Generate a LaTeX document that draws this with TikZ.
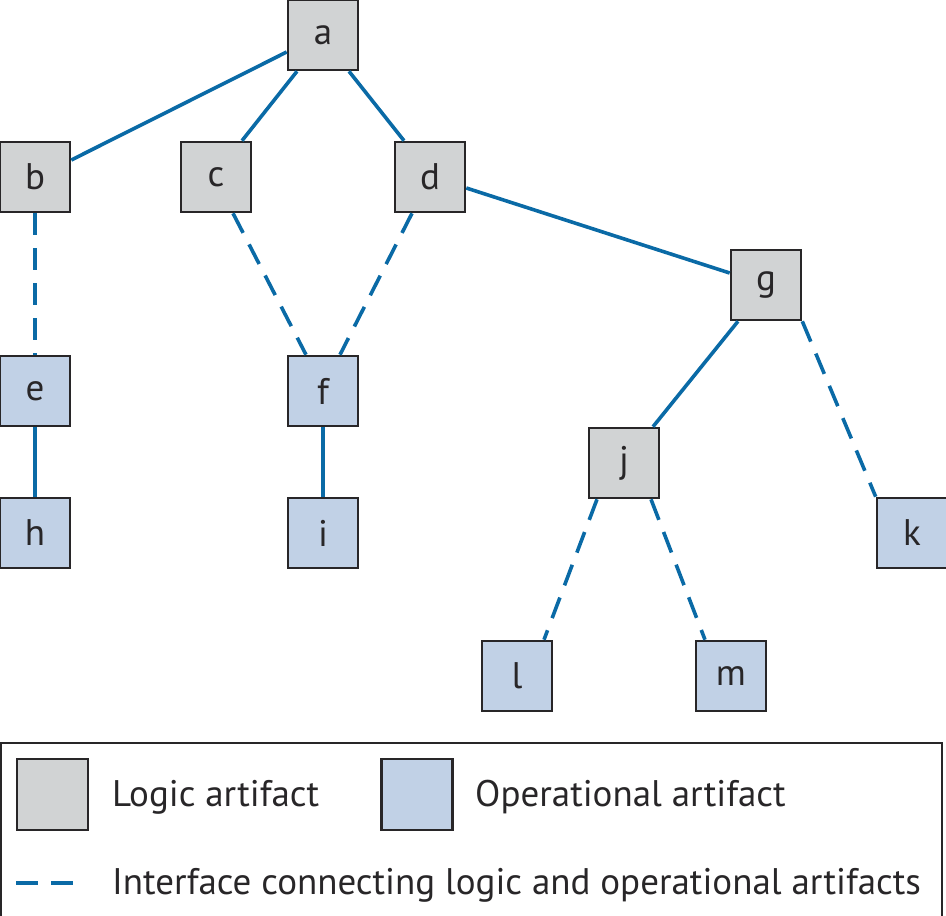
\documentclass[tikz,border=0pt]{standalone}
\usepackage{fontspec}
\setmainfont{PT Sans}
\definecolor{edgeblue}{RGB}{10,106,166}
\definecolor{logicfill}{RGB}{209,211,212}
\definecolor{opfill}{RGB}{193,209,230}
\definecolor{boxline}{RGB}{40,38,40}
\tikzset{
  artbox/.style={draw=boxline, line width=2.6pt, minimum size=70pt, inner sep=0pt, font=\fontsize{37}{40}\selectfont, text=boxline},
  logic/.style={artbox, fill=logicfill},
  oper/.style={artbox, fill=opfill},
  solidlink/.style={draw=edgeblue, line width=3.6pt},
  dashlink/.style={draw=edgeblue, line width=3.6pt, dash pattern=on 22pt off 13pt},
  legtext/.style={anchor=base west, inner sep=0pt, font=\fontsize{37}{40}\selectfont, text=boxline}
}
\begin{document}
\begin{tikzpicture}[x=1pt,y=-1pt]
\useasboundingbox (0,0) rectangle (946,916);
% nodes
\node[logic] (a) at (323,35) {a};
\node[logic] (b) at (35,177) {b};
\node[logic] (c) at (216,177) {c};
\node[logic] (d) at (430,177) {d};
\node[logic] (g) at (766,285) {g};
\node[oper]  (e) at (35,391) {e};
\node[oper]  (f) at (323,391) {f};
\node[oper]  (h) at (35,533) {h};
\node[oper]  (i) at (323,533) {i};
\node[logic] (j) at (624,463) {j};
\node[oper]  (k) at (912,533) {k};
\node[oper]  (l) at (517,676) {l};
\node[oper]  (m) at (731,676) {m};
% connectors
\draw[solidlink] ([yshift=-17pt]a.west) -- ([yshift=17pt]b.east);
\draw[solidlink] ([xshift=-26pt]a.south) -- ([xshift=26pt]c.north);
\draw[solidlink] ([xshift=26pt]a.south) -- ([xshift=-26pt]d.north);
\draw[solidlink] ([yshift=-11pt]d.east) -- ([yshift=12pt]g.west);
\draw[dashlink] (b.south) -- (e.north);
\draw[dashlink] ([xshift=17pt]c.south) -- ([xshift=-17pt]f.north);
\draw[dashlink] ([xshift=-18pt]d.south) -- ([xshift=17pt]f.north);
\draw[solidlink] (e.south) -- (h.north);
\draw[solidlink] (f.south) -- (i.north);
\draw[solidlink] ([xshift=-28pt]g.south) -- ([xshift=29pt]j.north);
\draw[dashlink] (g.south east) -- (k.north west);
\draw[dashlink] ([xshift=-27pt]j.south) -- ([xshift=27pt]l.north);
\draw[dashlink] ([xshift=27pt]j.south) -- ([xshift=-26pt]m.north);
% legend
\draw[draw=boxline, line width=2pt] (1,743) rectangle (942,940);
\node[logic, minimum size=71pt] (lg) at (52.5,794.5) {};
\node[oper, minimum size=71pt] (lo) at (417,794.5) {};
\node[legtext] (lgt) at (112,806) {Logic artifact};
\node[legtext] (lot) at (475,806) {Operational artifact};
\coordinate (ds) at (16,883);
\coordinate (de) at (73,883);
\draw[dashlink] (ds) -- (de);
\node[legtext] (lit) at (112,894) {Interface connecting logic and operational artifacts};
\end{tikzpicture}
\end{document}
